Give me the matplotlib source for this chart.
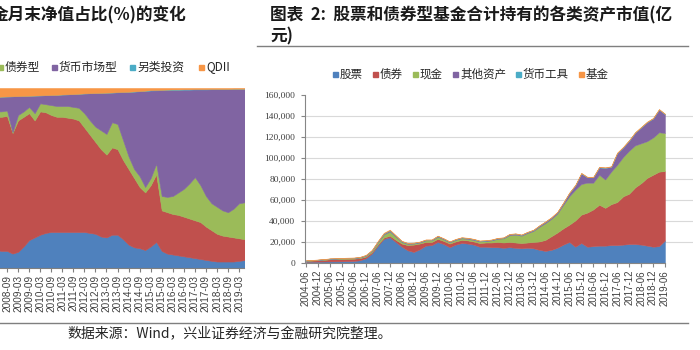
import numpy as np
import matplotlib
matplotlib.use('Agg')
import matplotlib.pyplot as plt
from matplotlib.patches import Rectangle
from matplotlib.lines import Line2D

plt.rcParams['font.family'] = ['Noto Sans CJK SC', 'DejaVu Sans']

W, H = 700, 350

# ---------------- left chart: share of fund NAV (%) ----------------
left_dates = ['2008-03', '2008-06', '2008-09', '2008-12', '2009-03', '2009-06', '2009-09', '2009-12',
              '2010-03', '2010-06', '2010-09', '2010-12', '2011-03', '2011-06', '2011-09', '2011-12',
              '2012-03', '2012-06', '2012-09', '2012-12', '2013-03', '2013-06', '2013-09', '2013-12',
              '2014-03', '2014-06', '2014-09', '2014-12', '2015-03', '2015-06', '2015-09', '2015-12',
              '2016-03', '2016-06', '2016-09', '2016-12', '2017-03', '2017-06', '2017-09', '2017-12',
              '2018-03', '2018-06', '2018-09', '2018-12', '2019-03', '2019-06']
left_names = ['股票型', '混合型', '债券型', '货币市场型', '另类投资', 'QDII']
left_stock = [10, 9.5, 9.5, 8, 9, 12, 15.5, 17, 18.5, 19.5, 20, 20, 20, 20, 20, 20,
              20, 19.5, 19, 17.5, 17, 18.5, 18.5, 16, 13, 11.5, 11, 10, 12, 14.5, 9.5, 8,
              7.5, 7, 6.5, 6, 5.5, 5, 4.5, 4, 3.6, 3.6, 3.6, 3.6, 4, 4.4]
left_mixed = [74, 74.5, 75, 67, 73, 72, 70.5, 65, 68.5, 67, 65, 64, 64, 63.5, 63, 62,
              58, 54.5, 51, 48.5, 46, 48.5, 47.5, 44, 42, 38.5, 34, 32, 34, 37.5, 22.5, 23,
              22.5, 22.5, 22, 21.5, 21, 20.5, 18.5, 17, 15.4, 14.4, 13.9, 13.4, 12.5, 11.6]
left_bond = [3, 3, 3, 0.5, 3, 3, 3.5, 4, 4.5, 4.5, 5.5, 6, 6, 6.5, 6.5, 7,
             8, 8, 8.5, 10.5, 11.5, 14, 14, 11, 7, 5, 6, 3, 4, 6, 8, 8.5,
             10, 12.5, 15.5, 19.5, 24, 20.5, 17, 15, 15, 14, 13.5, 16, 19.5, 20.5]
left_money = [8, 8.2, 7.8, 19.9, 10.5, 8.6, 6.2, 9.8, 4.4, 5, 5.6, 6.2, 6.4, 6.5, 7.1, 7.8,
              11, 15.1, 18.7, 20.8, 22.9, 16.5, 17.6, 26.7, 35.8, 43, 47.2, 53.4, 48.6, 40.7, 58.8, 59.4,
              59, 57, 55.1, 52.1, 48.7, 53.2, 59.2, 63.3, 65.3, 67.3, 68.3, 66.4, 63.4, 62.9]
left_alt = [0, 0, 0, 0, 0, 0, 0, 0, 0, 0, 0, 0, 0, 0, 0, 0,
            0, 0, 0, 0, 0, 0, 0.1, 0.1, 0.1, 0.1, 0.1, 0.1, 0.2, 0.2, 0.2, 0.2,
            0.2, 0.2, 0.2, 0.2, 0.2, 0.2, 0.2, 0.2, 0.2, 0.2, 0.2, 0.2, 0.2, 0.2]
left_qdii = [5, 4.8, 4.7, 4.6, 4.5, 4.4, 4.3, 4.2, 4.1, 4, 3.9, 3.8, 3.6, 3.5, 3.4, 3.2,
             3, 2.9, 2.8, 2.7, 2.6, 2.5, 2.3, 2.2, 2.1, 1.9, 1.7, 1.5, 1.2, 1.1, 1.0, 0.9,
             0.8, 0.8, 0.7, 0.7, 0.6, 0.6, 0.6, 0.5, 0.5, 0.5, 0.5, 0.4, 0.4, 0.4]
left_tick_labels = ['2008-03', '2008-09', '2009-03', '2009-09', '2010-03', '2010-09', '2011-03',
                    '2011-09', '2012-03', '2012-09', '2013-03', '2013-09', '2014-03', '2014-09',
                    '2015-03', '2015-09', '2016-03', '2016-09', '2017-03', '2017-09', '2018-03',
                    '2018-09', '2019-03']
left_legend_visible = ['债券型', '货币市场型', '另类投资', 'QDII']

# ---------------- right chart: assets held (亿元) ----------------
right_dates = ['2004-06', '2004-09', '2004-12', '2005-03', '2005-06', '2005-09', '2005-12', '2006-03',
               '2006-06', '2006-09', '2006-12', '2007-03', '2007-06', '2007-09', '2007-12', '2008-03',
               '2008-06', '2008-09', '2008-12', '2009-03', '2009-06', '2009-09', '2009-12', '2010-03',
               '2010-06', '2010-09', '2010-12', '2011-03', '2011-06', '2011-09', '2011-12', '2012-03',
               '2012-06', '2012-09', '2012-12', '2013-03', '2013-06', '2013-09', '2013-12', '2014-03',
               '2014-06', '2014-09', '2014-12', '2015-03', '2015-06', '2015-09', '2015-12', '2016-03',
               '2016-06', '2016-09', '2016-12', '2017-03', '2017-06', '2017-09', '2017-12', '2018-03',
               '2018-06', '2018-09', '2018-12', '2019-03', '2019-06']
right_names = ['股票', '债券', '现金', '其他资产', '货币工具', '基金']
right_stock = [1200, 1300, 1300, 1400, 1500, 1500, 1600, 1700, 1900, 2600, 4500, 9000, 16500, 23000,
               24500, 20000, 15500, 12000, 10500, 13000, 16500, 17000, 20000, 18000, 15000, 17500,
               19000, 18500, 17500, 15500, 15500, 15000, 15000, 14500, 15000, 14500, 14000, 14500,
               14000, 12500, 11500, 12500, 14500, 17500, 20000, 15500, 19000, 15500, 16000, 16500,
               16500, 17000, 17000, 17500, 18000, 18000, 17500, 16500, 15500, 16000, 21500]
right_bond = [800, 1000, 1300, 1600, 2000, 2200, 2300, 2300, 2200, 2000, 1600, 1300, 1200, 1200,
              1500, 2000, 3000, 5000, 7000, 5500, 3500, 3000, 3000, 3000, 3500, 3000, 3000, 3000,
              3000, 3500, 4000, 4500, 5000, 5000, 5000, 5000, 5000, 5000, 6000, 8000, 10500, 13000,
              14500, 15500, 16500, 25000, 27000, 32500, 35000, 39000, 36000, 39000, 41000, 46000,
              48000, 54000, 58500, 64500, 68500, 71000, 66000]
right_cash = [300, 300, 400, 400, 500, 500, 500, 600, 600, 700, 900, 1200, 2000, 3000, 4000, 3000,
              1500, 1200, 1000, 1000, 1500, 1500, 2000, 1500, 1200, 1500, 1500, 1500, 1500, 1500,
              1300, 2000, 3000, 4000, 6500, 7500, 7000, 9000, 10500, 14000, 16000, 16500, 18000,
              22500, 27000, 29300, 29200, 28500, 25500, 28500, 27000, 31000, 35500, 37500, 41000,
              40000, 38000, 35000, 35500, 37500, 36300]
right_other = [100, 100, 100, 150, 150, 150, 200, 200, 200, 250, 300, 400, 600, 800, 1000, 800,
               600, 500, 500, 500, 500, 500, 600, 600, 500, 500, 600, 600, 600, 500, 500, 500,
               500, 500, 800, 800, 700, 800, 800, 1000, 1200, 1200, 1300, 1700, 3000, 4000, 10000,
               5000, 5000, 7000, 11000, 4500, 11000, 9000, 9500, 12000, 15000, 18000, 18000, 21500,
               17700]
right_money_inst = [100, 100, 100, 100, 100, 100, 100, 100, 100, 100, 150, 150, 200, 200, 200, 200,
                    200, 200, 200, 200, 200, 200, 200, 200, 200, 200, 200, 200, 200, 200, 200, 200,
                    200, 200, 200, 200, 200, 200, 200, 200, 200, 200, 200, 200, 300, 300, 300, 300,
                    300, 300, 300, 300, 300, 300, 300, 300, 300, 300, 300, 300, 300]
right_fund = [200, 200, 200, 200, 250, 250, 250, 250, 300, 300, 400, 500, 600, 600, 600, 500,
              400, 300, 300, 300, 300, 300, 300, 300, 300, 300, 300, 300, 300, 300, 300, 300,
              300, 300, 300, 300, 300, 300, 300, 300, 300, 300, 300, 300, 400, 400, 400, 400,
              400, 400, 400, 400, 400, 400, 400, 400, 400, 400, 400, 400, 400]
right_tick_labels = right_dates[::2]
right_y_ticks = [0, 20000, 40000, 60000, 80000, 100000, 120000, 140000, 160000]
right_y_labels = ['0', '20,000', '40,000', '60,000', '80,000', '100,000', '120,000', '140,000', '160,000']

colors = ['#4F81BD', '#C0504D', '#9BBB59', '#8064A2', '#4BACC6', '#F79646']

fig = plt.figure(figsize=(7, 3.5), dpi=100)
fig.patch.set_facecolor('white')


def fx(px):
    return px / W


def fy(py):
    return 1 - py / H


def month_index(s):
    y, m = s.split('-')
    return (int(y) - 2008) * 12 + int(m) - 9


# ---- left axes ----
PXM = 1.842
L0 = -10
ax1 = fig.add_axes([fx(L0), fy(268), (244 - L0) / W, 180 / H])
lx = [month_index(d) for d in left_dates]
polys = ax1.stackplot(lx, left_stock, left_mixed, left_bond, left_money, left_alt, left_qdii,
                      colors=colors)
for p in polys:
    p.set_edgecolor(p.get_facecolor())
    p.set_linewidth(0.4)
ax1.set_xlim((L0 - 7) / PXM, (244 - 7) / PXM)
ax1.set_ylim(0, 100)
for s in ['top', 'right', 'left']:
    ax1.spines[s].set_visible(False)
ax1.spines['bottom'].set_color('#7f7f7f')
ax1.set_yticks([])
ax1.set_xticks([month_index(d) for d in left_tick_labels])
ax1.set_xticklabels(left_tick_labels, rotation=90, fontsize=7.2, family='Liberation Sans',
                    color='#404040')
ax1.tick_params(axis='x', direction='out', length=3, width=0.8, color='#7f7f7f', pad=2)

# ---- right axes ----
PXQ = (665 - 306) / 60
ax2 = fig.add_axes([fx(305), fy(263), (693 - 305) / W, 168 / H])
rx = np.arange(len(right_dates))
for v in right_y_ticks[1:-1]:
    ax2.axhline(v, color='#d9d9d9', lw=0.8, zorder=0)
polys2 = ax2.stackplot(rx, right_stock, right_bond, right_cash, right_other, right_money_inst,
                       right_fund, colors=colors, zorder=2)
for p in polys2:
    p.set_edgecolor(p.get_facecolor())
    p.set_linewidth(0.3)
x0 = (305 - 306) / PXQ
ax2.set_xlim(x0, (693 - 306) / PXQ)
ax2.set_ylim(0, 160000)
for s in ['top', 'right']:
    ax2.spines[s].set_visible(False)
ax2.spines['left'].set_color('#868686')
ax2.spines['bottom'].set_color('#868686')
ax2.spines['bottom'].set_bounds(x0, len(right_dates) - 1)
ax2.set_yticks(right_y_ticks)
ax2.set_yticklabels(right_y_labels, fontsize=6.8, family='Liberation Serif', color='#404040')
ax2.set_xticks(rx[::2])
ax2.set_xticklabels(right_tick_labels, rotation=90, fontsize=7, family='Liberation Sans',
                    color='#404040')
ax2.tick_params(axis='both', direction='out', length=3, width=0.8, color='#868686')
ax2.tick_params(axis='x', pad=2)
ax2.tick_params(axis='y', pad=4)

# ---- titles ----
fig.text(fx(-8), fy(15), '金月末净值占比(%)的变化', fontsize=12, fontweight='bold',
         color='#1a1a1a', va='center', ha='left')
fig.text(fx(270), fy(15), '图表  2:  股票和债券型基金合计持有的各类资产市值(亿', fontsize=12,
         fontweight='bold', color='#1a1a1a', va='center', ha='left')
fig.text(fx(270), fy(36), '元)', fontsize=12, fontweight='bold', color='#1a1a1a',
         va='center', ha='left')
fig.add_artist(Line2D([fx(257), fx(688)], [fy(46), fy(46)], color='#7f7f7f', lw=1.0,
                      transform=fig.transFigure))

# ---- left legend (partially cropped) ----
left_leg_x = [-2, 52, 130, 199]
for name, xm, c in zip(left_legend_visible, left_leg_x, colors[2:]):
    fig.add_artist(Rectangle((fx(xm), fy(70)), 5 / W, 5 / H, color=c, transform=fig.transFigure))
    fig.text(fx(xm + 7), fy(67), name, fontsize=8.5, color='#262626', va='center', ha='left')

# ---- right legend ----
right_leg_x = [333, 373, 413, 453, 516, 579]
for name, xm, c in zip(right_names, right_leg_x, colors):
    fig.add_artist(Rectangle((fx(xm), fy(77)), 5 / W, 5 / H, color=c, transform=fig.transFigure))
    fig.text(fx(xm + 7), fy(74.5), name, fontsize=8.3, color='#262626', va='center', ha='left')

# ---- footer ----
fig.add_artist(Line2D([fx(0), fx(688)], [fy(323), fy(323)], color='#7f7f7f', lw=1.0,
                      transform=fig.transFigure))
fig.text(fx(67), fy(334), '数据来源：Wind，兴业证券经济与金融研究院整理。', fontsize=10,
         color='#262626', va='center', ha='left')

fig.savefig('out.png', dpi=100, facecolor='white')
